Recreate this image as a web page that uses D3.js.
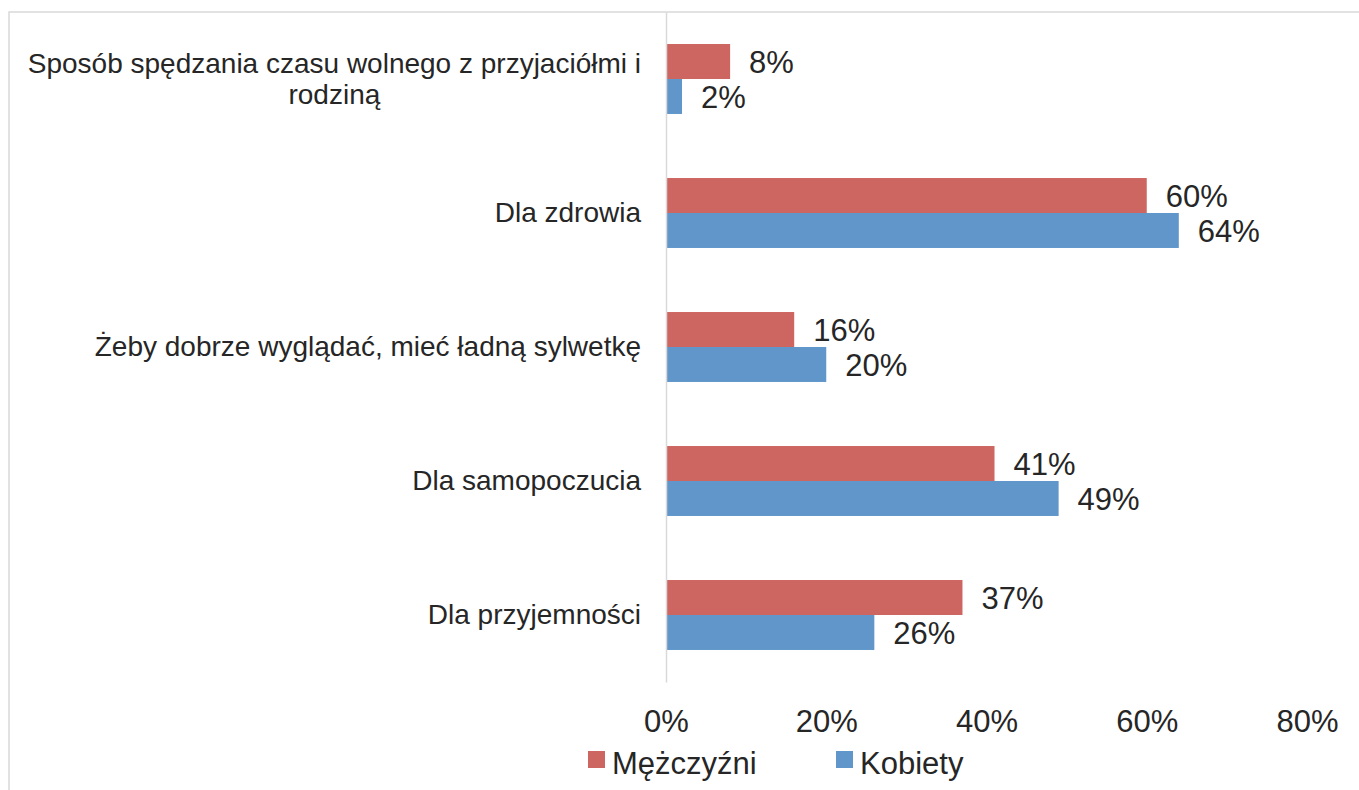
<!DOCTYPE html>
<html>
<head>
<meta charset="utf-8">
<script src="https://cdn.jsdelivr.net/npm/d3@7"></script>
<style>
  body { margin: 0; background: #fff; }
  svg text { font-family: "Liberation Sans", Arial, sans-serif; fill: #262626; }
</style>
</head>
<body>
<svg id="chart" width="1359" height="790"></svg>
<script>
const categories = [
  "Sposób spędzania czasu wolnego z przyjaciółmi i rodziną",
  "Dla zdrowia",
  "Żeby dobrze wyglądać, mieć ładną sylwetkę",
  "Dla samopoczucia",
  "Dla przyjemności",
];
const seriesNames = ["Mężczyźni", "Kobiety"];
const men = [8, 60, 16, 41, 37];
const women = [2, 64, 20, 49, 26];
const xTicks = [0, 20, 40, 60, 80];
const colors = ["#cd6560", "#6096c9"];

const rows = categories.map((c, i) => ({ category: c, values: [men[i], women[i]] }));

const svg = d3.select("#chart");

// outer chart frame (only top and left edges are visible)
svg.append("rect")
  .attr("x", 9).attr("y", 12)
  .attr("width", 1400).attr("height", 900)
  .attr("fill", "none")
  .attr("stroke", "#d9d9d9")
  .attr("stroke-width", 1.5);

const plot = { left: 666, right: 1307, top: 12, bottom: 682 };

const x = d3.scaleLinear().domain([0, 80]).range([plot.left, plot.right]);

const y0 = d3.scaleBand()
  .domain(categories)
  .range([plot.top, plot.bottom])
  .paddingInner(0.478)
  .paddingOuter(0.239);

const y1 = d3.scaleBand()
  .domain(seriesNames)
  .range([0, y0.bandwidth()]);

// bars
const groups = svg.selectAll(".group")
  .data(rows)
  .enter()
  .append("g")
  .attr("class", "group")
  .attr("transform", (d) => `translate(0, ${y0(d.category)})`);

groups.selectAll("rect")
  .data((d) => d.values.map((v, j) => ({ name: seriesNames[j], value: v, j })))
  .enter()
  .append("rect")
  .attr("x", x(0))
  .attr("y", (d) => y1(d.name))
  .attr("width", (d) => x(d.value) - x(0))
  .attr("height", y1.bandwidth())
  .attr("fill", (d) => colors[d.j]);

groups.selectAll(".val")
  .data((d) => d.values.map((v, j) => ({ name: seriesNames[j], value: v })))
  .enter()
  .append("text")
  .attr("class", "val")
  .attr("x", (d) => x(d.value) + 19)
  .attr("y", (d) => y1(d.name) + y1.bandwidth() / 2)
  .attr("dy", "0.36em")
  .style("font-size", "31px")
  .text((d) => d.value + "%");

// vertical axis
const yAxis = svg.append("g")
  .attr("transform", `translate(${plot.left}, 0)`)
  .call(d3.axisLeft(y0).tickSize(0).tickPadding(25));

yAxis.select(".domain").attr("stroke", "#d9d9d9").attr("stroke-width", 1.5);

yAxis.selectAll(".tick text")
  .style("font-size", "28px")
  .style("font-family", '"Liberation Sans", Arial, sans-serif')
  .attr("fill", "#262626")
  .each(function (d) {
    const t = d3.select(this);
    const words = d.split(" ");
    const maxW = 625;
    const lines = [];
    let line = [];
    t.text(null);
    const probe = t.append("tspan");
    words.forEach((w) => {
      line.push(w);
      probe.text(line.join(" "));
      if (probe.node().getComputedTextLength() > maxW && line.length > 1) {
        line.pop();
        lines.push(line.join(" "));
        line = [w];
      }
    });
    lines.push(line.join(" "));
    probe.remove();
    if (lines.length === 1) {
      t.text(d);
      return;
    }
    const lh = 31;
    t.text(null);
    // measure widest line so lines are centred on each other, right-aligned as a block
    const widths = lines.map((l) => {
      const s = t.append("tspan").text(l);
      const w = s.node().getComputedTextLength();
      s.remove();
      return w;
    });
    const wMax = d3.max(widths);
    const cx = -25 - wMax / 2;
    t.attr("text-anchor", "middle").attr("x", null).attr("dy", null);
    lines.forEach((l, k) => {
      t.append("tspan")
        .attr("x", cx)
        .attr("y", (k - (lines.length - 1) / 2) * lh)
        .attr("dy", "0.35em")
        .text(l);
    });
  });

// horizontal axis labels
const xAxis = svg.append("g")
  .attr("transform", `translate(0, ${plot.bottom})`)
  .call(d3.axisBottom(x).tickValues(xTicks).tickSize(0).tickPadding(28).tickFormat((d) => d + "%"));

xAxis.select(".domain").remove();
xAxis.selectAll(".tick text")
  .style("font-size", "31px")
  .style("font-family", '"Liberation Sans", Arial, sans-serif')
  .attr("fill", "#262626");

// legend
const legendX = [588, 836];
const legend = svg.append("g")
  .selectAll("g")
  .data(seriesNames)
  .enter()
  .append("g")
  .attr("transform", (d, i) => `translate(${legendX[i]}, 751)`);

legend.append("rect")
  .attr("width", 17)
  .attr("height", 17)
  .attr("fill", (d, i) => colors[i]);

legend.append("text")
  .attr("x", 24)
  .attr("y", 23)
  .style("font-size", "31px")
  .text((d) => d);
</script>
</body>
</html>
